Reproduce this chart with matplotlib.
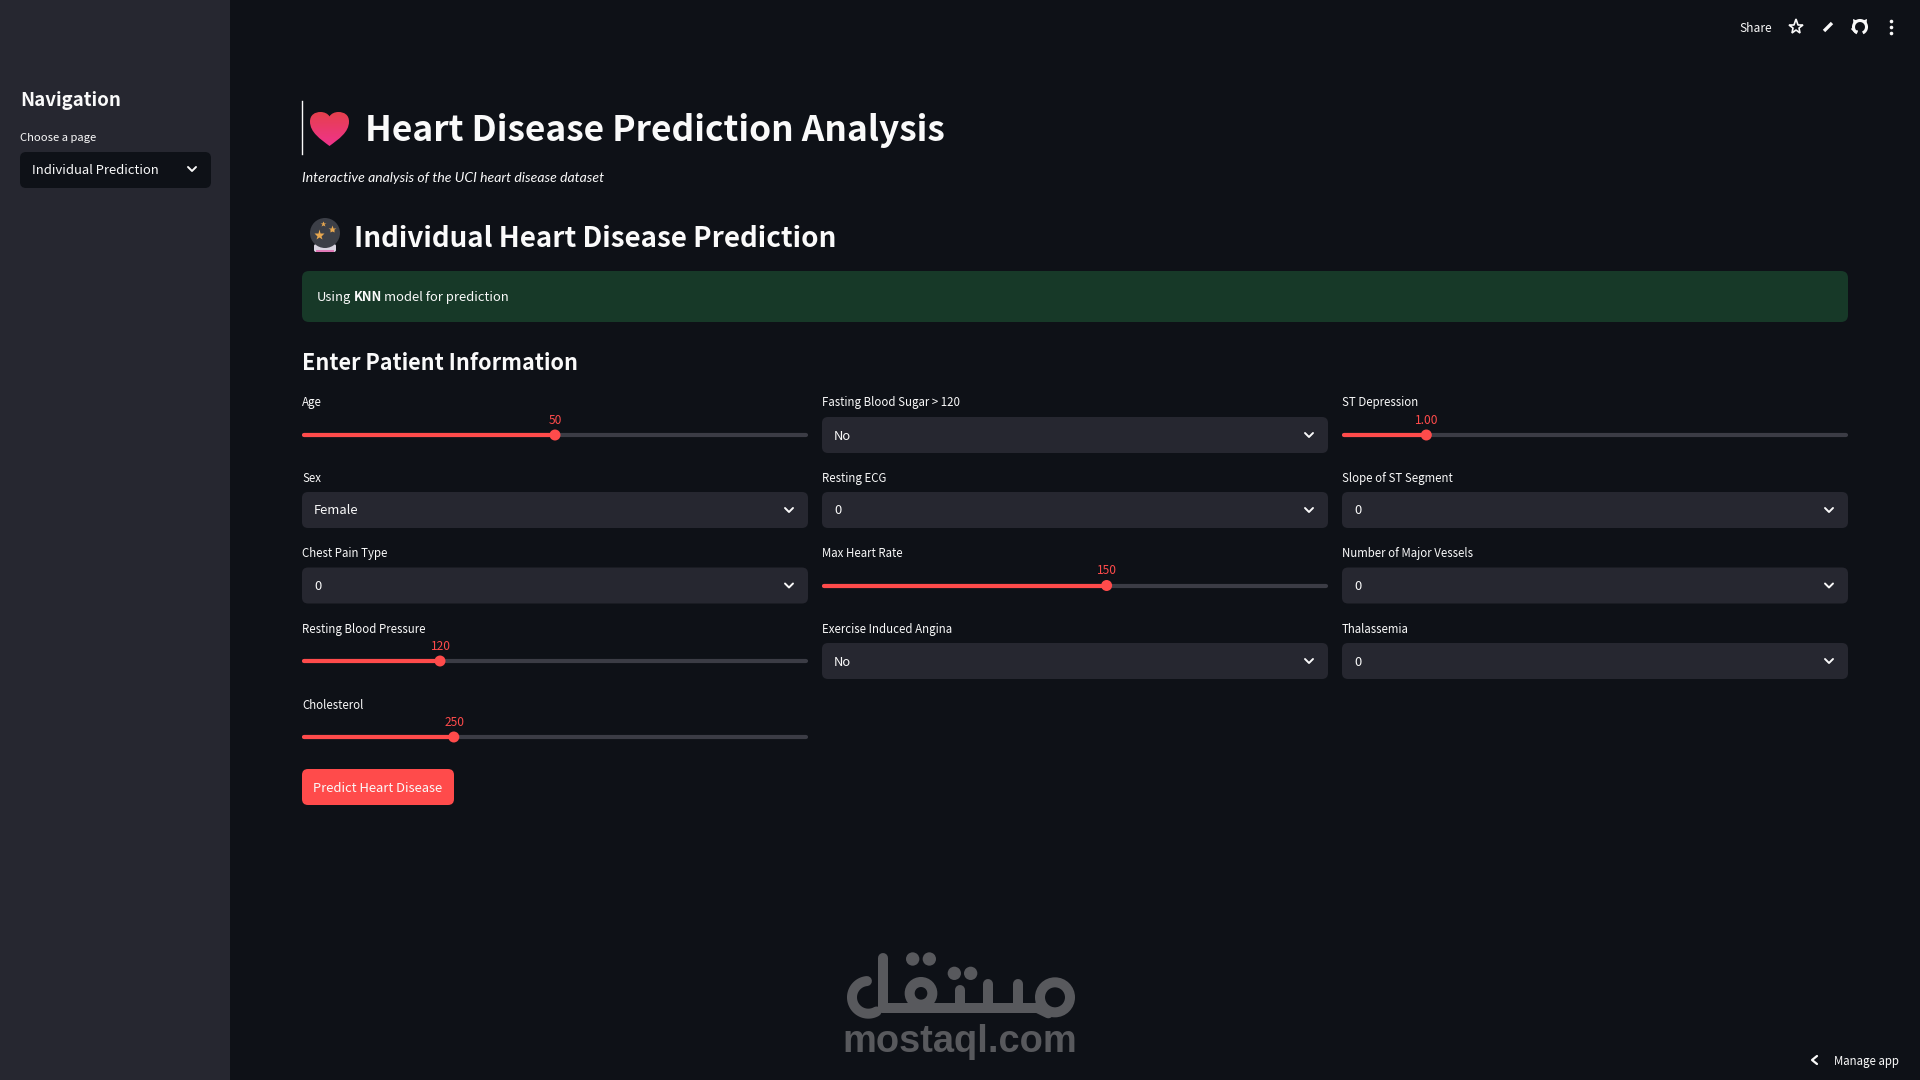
import numpy as np
import matplotlib
matplotlib.use("Agg")
import matplotlib.pyplot as plt
from matplotlib.patches import FancyBboxPatch, Circle, Rectangle, PathPatch, Polygon
from matplotlib.path import Path

plt.rcParams["font.family"] = ["Noto Sans CJK SC", "DejaVu Sans"]

BG = "#0e1117"
PANEL = "#262730"
RED = "#ff4b4b"
TEXT = "#fafafa"
LOGO = "#58595d"

# form contents, one list per column, top to bottom
COL_LABELS = [
    ["Age", "Sex", "Chest Pain Type", "Resting Blood Pressure", "Cholesterol"],
    ["Fasting Blood Sugar > 120", "Resting ECG", "Max Heart Rate",
     "Exercise Induced Angina"],
    ["ST Depression", "Slope of ST Segment", "Number of Major Vessels", "Thalassemia"],
]
SELECT_VALUES = {
    "Sex": "Female",
    "Chest Pain Type": "0",
    "Fasting Blood Sugar > 120": "No",
    "Resting ECG": "0",
    "Exercise Induced Angina": "No",
    "Slope of ST Segment": "0",
    "Number of Major Vessels": "0",
    "Thalassemia": "0",
}
SLIDER_VALUES = {
    "Age": 50,
    "Resting Blood Pressure": 120,
    "Cholesterol": 250,
    "Max Heart Rate": 150,
    "ST Depression": 1.0,
}
SLIDER_RANGES = {
    "Age": (20, 80),
    "Resting Blood Pressure": (90, 200),
    "Cholesterol": (100, 600),
    "Max Heart Rate": (60, 220),
    "ST Depression": (0, 6),
}
SLIDER_FORMATS = {"ST Depression": "{:.2f}"}

PAGE_TITLE = "Heart Disease Prediction Analysis"
PAGE_SUBTITLE = "Interactive analysis of the UCI heart disease dataset"
SECTION_TITLE = "Individual Heart Disease Prediction"
FORM_TITLE = "Enter Patient Information"
BUTTON_LABEL = "Predict Heart Disease"

COL_LEFT = [302, 822, 1342]
COL_WIDTH = 506
ROW_CENTER = [435, 510, 585.5, 661, 737]
ROW_LABEL = [401, 477, 552, 628, 704]

fig = plt.figure(figsize=(19.2, 10.8), dpi=100, facecolor=BG)
ax = fig.add_axes([0, 0, 1, 1])
ax.set_xlim(0, 1920)
ax.set_ylim(1080, 0)
ax.axis("off")


def px(size):
    return size * 72 / 100


def label(x, y, s, size=14, weight="normal", color=TEXT, ha="left", va="center_baseline", **kw):
    kw.setdefault("family", ["Noto Sans CJK SC", "DejaVu Sans"])
    return ax.text(x, y, s, fontsize=px(size), fontweight=weight, color=color,
                   ha=ha, va=va, **kw)


def box(x, y, w, h, color, r=6):
    ax.add_patch(FancyBboxPatch((x, y), w, h, boxstyle=f"round,pad=0,rounding_size={r}",
                                fc=color, ec="none"))


def chevron(x, y, s=4, color=TEXT, lw=1.4):
    ax.plot([x - s, x, x + s], [y - s / 2, y + s / 2, y - s / 2], color=color, lw=lw,
            solid_capstyle="round", solid_joinstyle="round")


def select(x, cy, w, text):
    box(x, cy - 18, w, 36, PANEL)
    label(x + 12, cy - 0.5, text, 13)
    chevron(x + w - 19, cy)


def slider(x, cy, w, name):
    lo, hi = SLIDER_RANGES[name]
    value = SLIDER_VALUES[name]
    tx = x + (value - lo) / (hi - lo) * w
    ax.plot([x + 2, x + w - 2], [cy, cy], color="#3b3c45", lw=3, solid_capstyle="round")
    ax.plot([x + 2, tx], [cy, cy], color=RED, lw=3, solid_capstyle="round")
    ax.add_patch(Circle((tx, cy), 5.5, fc=RED, ec="none", zorder=3))
    fmt = SLIDER_FORMATS.get(name, "{:d}")
    label(tx + 0.5, cy - 16, fmt.format(value), 12, color=RED, ha="center")


def heart(x0, y0, x1, y1):
    # heart emoji, gradient clipped to a bezier outline
    w, h = x1 - x0, y1 - y0
    pts = [(0.5, 1.0), (0.27, 0.8), (0.0, 0.6), (0.0, 0.28), (0.0, 0.08), (0.13, 0.0),
           (0.27, 0.0), (0.37, 0.0), (0.46, 0.05), (0.5, 0.13), (0.54, 0.05), (0.63, 0.0),
           (0.73, 0.0), (0.87, 0.0), (1.0, 0.08), (1.0, 0.28), (1.0, 0.6), (0.73, 0.8),
           (0.5, 1.0)]
    verts = [(x0 + a * w, y0 + b * h) for a, b in pts]
    codes = [Path.MOVETO] + [Path.CURVE4] * 18
    patch = PathPatch(Path(verts, codes), fc="none", ec="none")
    ax.add_patch(patch)
    t = np.linspace(0, 1, 64)[:, None, None]
    top = np.array([[[0.90, 0.25, 0.30]]])
    bottom = np.array([[[0.94, 0.20, 0.55]]])
    im = ax.imshow(top * (1 - t) + bottom * t, extent=(x0, x1, y1, y0), aspect="auto",
                   interpolation="bilinear", zorder=2)
    im.set_clip_path(patch)
    ax.set_xlim(0, 1920)
    ax.set_ylim(1080, 0)


def crystal_ball():
    ax.add_patch(FancyBboxPatch((314, 244), 22, 8, boxstyle="round,pad=0,rounding_size=2",
                                fc="#d8d4e0", ec="none", zorder=2))
    ax.add_patch(Rectangle((316, 250), 18, 2, fc="#e07ab8", ec="none", zorder=2))
    ax.add_patch(Circle((325, 233), 15, fc="#3c3f47", ec="none", zorder=2))
    stars = [(319, 235, 8), (332, 229, 6), (323, 224, 4)]
    for sx, sy, ms in stars:
        ax.plot([sx], [sy], marker="*", ms=ms, color="#e8a850", mec="none", zorder=3)


def github_icon(cx, cy):
    a = np.radians(np.linspace(-65, 245, 50))
    ax.plot(cx + 6.5 * np.cos(a), cy - 6.5 * np.sin(a), color=TEXT, lw=2.2,
            solid_capstyle="butt")
    for sign in (-1, 1):
        ax.add_patch(Polygon([(cx + sign * 7, cy - 8), (cx + sign * 6.5, cy - 3),
                              (cx + sign * 2, cy - 6)], fc=TEXT, ec="none"))
    ax.plot([cx - 8, cx - 5, cx - 3], [cy + 2, cy + 5, cy + 4], color=TEXT, lw=1.1)


def logo():
    # mostaql wordmark, drawn as strokes (scaled from the zoomed crop)
    lw = px(10)
    sx = lambda v: 840 + np.asarray(v) / 3
    sy = lambda v: 945 + np.asarray(v) / 3
    kw = dict(color=LOGO, lw=lw, solid_capstyle="round", solid_joinstyle="round", zorder=2)
    # lam and the left tail
    ax.plot(sx([130, 130]), sy([38, 188]), **kw)
    a = np.radians(np.linspace(95, 300, 50))
    ax.plot(sx(85 + 49 * np.cos(a)), sy(157 - 49 * np.sin(a)), **kw)
    # baseline
    ax.plot(sx([130, 610]), sy([188, 188]), **kw)
    # qaf ring and dots
    ax.add_patch(Circle((sx(243), sy(145)), 34 / 3, fc="none", ec=LOGO, lw=lw, zorder=2))
    for cx, cy in [(218, 42), (268, 42), (343, 85), (392, 85)]:
        ax.add_patch(Circle((sx(cx), sy(cy)), 20 / 3, fc=LOGO, ec="none", zorder=2))
    # seen teeth
    for xv, top in [(360, 135), (445, 118), (535, 118)]:
        ax.plot(sx([xv, xv]), sy([top, 188]), **kw)
    # meem ring and tail
    ax.add_patch(Circle((sx(645), sy(157)), 15, fc="none", ec=LOGO, lw=lw, zorder=2))
    ax.plot(sx([590, 625]), sy([188, 205]), **kw)
    label(959.5, 1038, "mostaql.com", 38, weight="bold", color=LOGO, ha="center",
          family=["Liberation Sans"])


# sidebar
ax.add_patch(Rectangle((0, 0), 230, 1080, fc=PANEL, ec="none"))
label(20, 98, "Navigation", 18.7, weight="bold")
label(20, 137, "Choose a page", 11.2)
box(20, 152, 191, 36, BG)
label(32, 169, "Individual Prediction", 13)
chevron(192, 169)

# toolbar
label(1739, 27, "Share", 12)
ax.plot([1796], [27], marker="*", ms=11, mfc="none", mec=TEXT, mew=1.2)
ax.plot([1824, 1832], [31, 23], color=TEXT, lw=2.4, solid_capstyle="butt")
github_icon(1860, 27)
ax.plot([1891] * 3, [21, 27, 33], ls="none", marker="o", ms=2.6, color=TEXT, mec="none")

# header block
ax.plot([302, 302], [101, 154], color=TEXT, lw=1)
heart(310, 112, 349, 146)
label(365, 127, PAGE_TITLE, 35.3, weight="bold")
label(302, 177, PAGE_SUBTITLE, 14, family=["Lato"], style="italic")
crystal_ball()
label(354, 236, SECTION_TITLE, 27.8, weight="bold")
box(302, 271, 1546, 51, "#173928", r=7)
label(317, 301, "Using", 13, va="baseline")
label(354, 301, "KNN", 13, weight="bold", va="baseline")
label(384, 301, "model for prediction", 13, va="baseline")
label(302, 361, FORM_TITLE, 21.6, weight="bold")

# form
for col, names in enumerate(COL_LABELS):
    x = COL_LEFT[col]
    for row, name in enumerate(names):
        cy = ROW_CENTER[row]
        label(x, ROW_LABEL[row], name, 11.5)
        if name in SLIDER_VALUES:
            slider(x, cy, COL_WIDTH, name)
        else:
            select(x, cy, COL_WIDTH, SELECT_VALUES[name])

box(302, 769, 152, 36, RED, r=6)
label(378, 787, BUTTON_LABEL, 13, ha="center")

logo()

# bottom-right badge
ax.plot([1817, 1812, 1817], [1056, 1060, 1064], color=TEXT, lw=1.6,
        solid_capstyle="round", solid_joinstyle="round")
label(1834, 1060, "Manage app", 11.5)

fig.savefig("out.png", dpi=100, facecolor=BG)
